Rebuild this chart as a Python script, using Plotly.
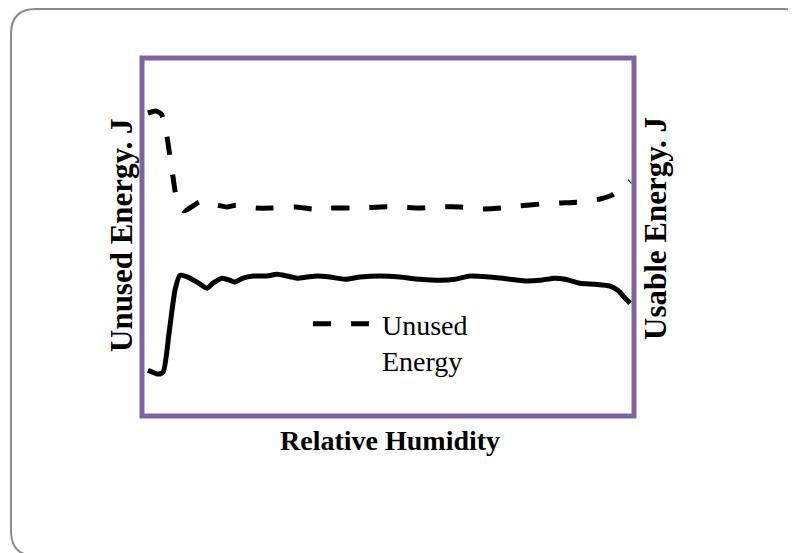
"""
Unused vs usable energy over relative humidity (schematic, no tick values)
"""
import plotly.graph_objects as go

# relative humidity positions (0-100 across the plot box)
humidity_unused = [1.2, 2.8, 3.9, 4.5, 5.1, 5.7, 6.3, 6.9, 8.5, 11.8, 15.2, 17.3, 19.1,
                   23.2, 26.6, 31.1, 34.8, 38.2, 44.3, 48.4, 52.4, 56.5, 60.6, 64.6,
                   68.7, 72.8, 76.8, 80.9, 85.0, 89.0, 93.1, 95.5, 97.6, 99.2]
unused_energy = [84.6, 85.2, 84.4, 82.1, 77.9, 72.3, 66.8, 61.7, 57.3, 59.8, 58.9, 58.4, 58.9,
                 58.1, 58.1, 58.4, 57.8, 58.1, 58.1, 58.4, 58.4, 58.1, 58.4, 58.4,
                 57.8, 58.1, 58.7, 59.2, 59.5, 59.8, 60.6, 61.7, 63.7, 65.6]

humidity_usable = [1.2, 3.3, 4.3, 5.5, 6.7, 7.7, 9.3, 11.2, 13.2, 14.4, 16.3, 17.9, 18.9,
                   20.5, 22.6, 25.4, 27.4, 29.5, 31.5, 33.5, 35.6, 38.2, 41.3, 44.3,
                   48.4, 52.4, 56.5, 60.6, 63.6, 66.7, 70.7, 74.8, 77.8, 80.9, 83.9,
                   86.0, 89.0, 92.1, 95.1, 96.7, 98.2, 99.2]
usable_energy = [12.8, 11.7, 12.3, 23.2, 35.1, 39.3, 38.8, 37.4, 35.7, 37.1, 38.5, 37.9, 37.4,
                 38.5, 39.1, 39.1, 39.6, 39.1, 38.5, 38.8, 39.1, 38.8, 38.2, 38.8,
                 39.1, 38.8, 38.2, 37.9, 38.2, 39.1, 38.8, 38.2, 37.7, 37.9, 38.5,
                 38.2, 37.1, 36.8, 36.3, 35.1, 32.9, 31.5]

# the page body has an 8px margin, so the figure is drawn 8px smaller and
# every page position below is shifted by that offset
OFF = 8
W, H = 796 - OFF, 553 - OFF
L, R, T, B = 142 - OFF, 634 - OFF, 58 - OFF, 416 - OFF
FONT = 'Liberation Serif, Times New Roman, serif'


def px(x):
    return (x - OFF - L) / (R - L)


def py(y):
    return (B - (y - OFF)) / (B - T)


def rounded_rect(x0, y0, x1, y1, r):
    pts = [('M', x0 + r, y0), ('L', x1 - r, y0), ('Q', x1, y0, x1, y0 + r),
           ('L', x1, y1 - r), ('Q', x1, y1, x1 - r, y1), ('L', x0 + r, y1),
           ('Q', x0, y1, x0, y1 - r), ('L', x0, y0 + r), ('Q', x0, y0, x0 + r, y0)]
    out = []
    for p in pts:
        cmd, vals = p[0], p[1:]
        coords = []
        for i in range(0, len(vals), 2):
            coords.append(f"{px(vals[i]):.5f},{py(vals[i + 1]):.5f}")
        out.append(cmd + ' '.join(coords))
    return ' '.join(out) + ' Z'


fig = go.Figure()

fig.add_trace(go.Scatter(
    x=humidity_unused, y=unused_energy,
    mode='lines', name='Unused<br>Energy',
    line=dict(color='black', width=5, dash='18px,20px', shape='spline', smoothing=0.6),
    yaxis='y'
))

fig.add_trace(go.Scatter(
    x=humidity_usable, y=usable_energy,
    mode='lines', name='Usable Energy', showlegend=False,
    line=dict(color='black', width=5, shape='spline', smoothing=0.6),
    yaxis='y2'
))

# outer rounded frame (top edge kept just inside the figure) and purple plot box
fig.add_shape(type='path', xref='paper', yref='paper',
              path=rounded_rect(11, 9, 808, 556, 25),
              line=dict(color='#8a8a8a', width=2))
fig.add_shape(type='rect', xref='paper', yref='paper', x0=0, y0=0, x1=1, y1=1,
              line=dict(color='#8064A2', width=5), layer='below')

title_font = dict(family=FONT, size=31, color='black')
fig.add_annotation(text='<b>Unused Energy. J</b>', xref='paper', yref='paper',
                   x=px(121), y=py(236), xanchor='center', yanchor='middle',
                   textangle=-90, showarrow=False, font=title_font)
fig.add_annotation(text='<b>Usable Energy. J</b>', xref='paper', yref='paper',
                   x=px(655), y=py(229), xanchor='center', yanchor='middle',
                   textangle=-90, showarrow=False, font=title_font)
fig.add_annotation(text='<b>Relative Humidity</b>', xref='paper', yref='paper',
                   x=px(390), y=py(440), xanchor='center', yanchor='middle',
                   showarrow=False, font=dict(family=FONT, size=28, color='black'))

fig.update_layout(
    width=W, height=H,
    margin=dict(l=L, r=W - R, t=T, b=H - B),
    paper_bgcolor='white', plot_bgcolor='white',
    xaxis=dict(range=[0, 100], showgrid=False, zeroline=False, showticklabels=False,
               ticks=''),
    yaxis=dict(range=[0, 100], showgrid=False, zeroline=False, showticklabels=False,
               ticks=''),
    yaxis2=dict(range=[0, 100], overlaying='y', side='right', showgrid=False,
                zeroline=False, showticklabels=False, ticks=''),
    showlegend=True,
    legend=dict(x=px(308), y=py(299), xanchor='left', yanchor='top',
                bgcolor='rgba(0,0,0,0)', itemwidth=64, valign='top',
                font=dict(family=FONT, size=28, color='black')),
)

fig.write_html("out.html")
